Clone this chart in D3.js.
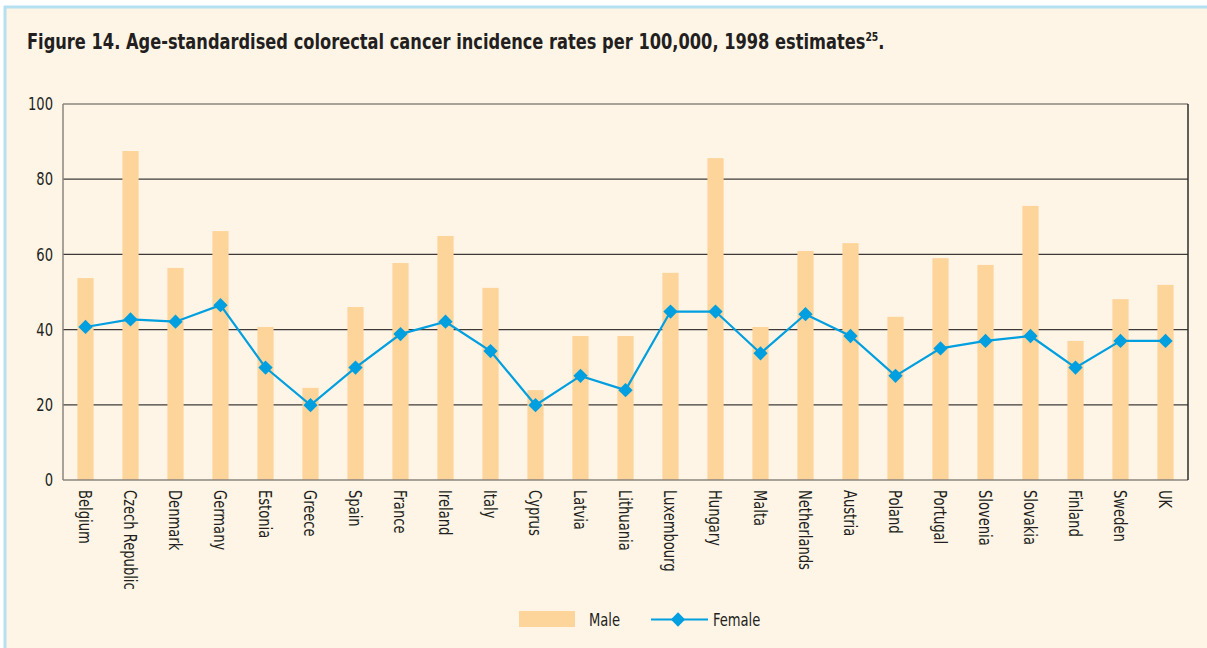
<!DOCTYPE html>
<html>
<head>
<meta charset="utf-8">
<script src="https://cdn.jsdelivr.net/npm/d3@7"></script>
<style>
  html, body { margin: 0; padding: 0; background: #ffffff; }
  svg { display: block; }
  text { font-family: "DejaVu Sans Condensed", "DejaVu Sans", sans-serif; font-stretch: condensed; fill: #231f20; }
</style>
</head>
<body>
<svg id="chart" width="1207" height="648"></svg>
<script>
// Countries along the x axis
const countries = ["Belgium", "Czech Republic", "Denmark", "Germany", "Estonia", "Greece", "Spain",
  "France", "Ireland", "Italy", "Cyprus", "Latvia", "Lithuania", "Luxembourg", "Hungary", "Malta",
  "Netherlands", "Austria", "Poland", "Portugal", "Slovenia", "Slovakia", "Finland", "Sweden", "UK"];

// Age-standardised incidence per 100,000 (1998 estimates)
const maleRates = [53.7, 87.5, 56.4, 66.2, 40.7, 24.5, 46.0, 57.7, 64.9, 51.1, 23.9, 38.3, 38.3,
  55.1, 85.6, 40.7, 60.9, 63.0, 43.4, 59.0, 57.2, 72.9, 37.0, 48.1, 51.9];
const femaleRates = [40.7, 42.7, 42.1, 46.5, 29.9, 19.9, 29.9, 38.8, 42.1, 34.3, 19.9, 27.7, 23.9,
  44.8, 44.8, 33.7, 44.1, 38.3, 27.7, 35.0, 37.0, 38.3, 29.9, 37.0, 37.0];

const yTicks = [0, 20, 40, 60, 80, 100];
const seriesNames = ["Male", "Female"];

const colors = { bg: "#fef5e7", bar: "#fdd49a", line: "#009fe0", border: "#b5e0f0", grid: "#3d3a38", frame: "#8a847e" };
const squeeze = 0.86;      // horizontal compression for the title
const labelSqueeze = 0.81; // horizontal compression for axis and legend labels
const labelSize = "18px";

const svg = d3.select("#chart");

// Page panel with light-blue top and left rule
svg.append("rect").attr("x", 5).attr("y", 7).attr("width", 1202).attr("height", 641).attr("fill", colors.bg);
svg.append("line").attr("x1", 4).attr("x2", 1207).attr("y1", 7).attr("y2", 7)
  .attr("stroke", colors.border).attr("stroke-width", 3);
svg.append("line").attr("x1", 5).attr("x2", 5).attr("y1", 6).attr("y2", 648)
  .attr("stroke", colors.border).attr("stroke-width", 3);

// Title
const title = svg.append("text").attr("transform", `translate(27,49) scale(${squeeze},1)`)
  .style("font-size", "21px").style("font-weight", "bold");
title.append("tspan").text("Figure 14. Age-standardised colorectal cancer incidence rates per 100,000, 1998 estimates");
title.append("tspan").text("25").attr("dy", -8).style("font-size", "12px");
title.append("tspan").text(".").attr("dy", 8);

const plot = { left: 63, right: 1188, top: 104, bottom: 480 };

const x = d3.scaleBand().domain(countries).range([plot.left, plot.right]).paddingInner(0.64).paddingOuter(0.32);
const xc = d => x(d) + x.bandwidth() / 2;
const y = d3.scaleLinear().domain([0, 100]).range([plot.bottom, plot.top]);

const g = svg.append("g");

// Horizontal gridlines
g.selectAll("line.grid").data(yTicks.filter(t => t > 0 && t < 100)).join("line")
  .attr("class", "grid")
  .attr("x1", plot.left).attr("x2", plot.right)
  .attr("y1", d => y(d)).attr("y2", d => y(d))
  .attr("stroke", colors.grid).attr("stroke-width", 1.2);

// Male bars
g.selectAll("rect.bar").data(maleRates).join("rect")
  .attr("class", "bar")
  .attr("x", (d, i) => x(countries[i]))
  .attr("width", x.bandwidth())
  .attr("y", d => y(d))
  .attr("height", d => y(0) - y(d))
  .attr("fill", colors.bar);

// Plot frame
g.append("line").attr("x1", plot.left).attr("x2", plot.right).attr("y1", plot.top).attr("y2", plot.top)
  .attr("stroke", colors.frame).attr("stroke-width", 1.5);
g.append("line").attr("x1", plot.left).attr("x2", plot.right).attr("y1", plot.bottom).attr("y2", plot.bottom)
  .attr("stroke", colors.frame).attr("stroke-width", 1.5);
g.append("line").attr("x1", plot.left).attr("x2", plot.left).attr("y1", plot.top).attr("y2", plot.bottom)
  .attr("stroke", colors.frame).attr("stroke-width", 1.5);
g.append("line").attr("x1", plot.right).attr("x2", plot.right).attr("y1", plot.top).attr("y2", plot.bottom)
  .attr("stroke", "#2e2b29").attr("stroke-width", 1.5);

// Female line with diamond markers
const line = d3.line().x((d, i) => xc(countries[i])).y(d => y(d));
g.append("path").datum(femaleRates).attr("d", line)
  .attr("fill", "none").attr("stroke", colors.line).attr("stroke-width", 2.2);
const diamond = d3.symbol().type(d3.symbolDiamond2).size(130);
g.selectAll("path.marker").data(femaleRates).join("path")
  .attr("class", "marker")
  .attr("transform", (d, i) => `translate(${xc(countries[i])},${y(d)})`)
  .attr("d", diamond)
  .attr("fill", colors.line);

// Y axis labels
const yAxis = d3.axisLeft(y).tickValues(yTicks).tickSize(0).tickPadding(0);
const ya = svg.append("g").attr("transform", `translate(${plot.left},0)`).call(yAxis);
ya.select(".domain").remove();
ya.selectAll("text").style("font-size", labelSize).style("font-family", null).attr("fill", "#231f20")
  .attr("x", 0).attr("transform", `translate(-10,0) scale(${labelSqueeze},1)`);

// X axis labels, rotated to read downward
const xAxis = d3.axisBottom(x).tickSize(0).tickPadding(0);
const xa = svg.append("g").attr("transform", `translate(0,${plot.bottom})`).call(xAxis);
xa.select(".domain").remove();
xa.selectAll("text")
  .style("font-size", labelSize).style("font-family", null).attr("fill", "#231f20")
  .attr("text-anchor", "start")
  .attr("dy", "0.35em")
  .attr("transform", `translate(0,10) rotate(90) scale(${labelSqueeze},1)`)
  .attr("y", 0).attr("x", 0);

// Legend
const lg = svg.append("g");
lg.append("rect").attr("x", 519).attr("y", 611).attr("width", 56).attr("height", 16).attr("fill", colors.bar);
lg.append("text").attr("transform", `translate(589,626) scale(${labelSqueeze},1)`).style("font-size", labelSize).text(seriesNames[0]);
lg.append("line").attr("x1", 651).attr("x2", 708).attr("y1", 619.5).attr("y2", 619.5)
  .attr("stroke", colors.line).attr("stroke-width", 2.2);
lg.append("path").attr("transform", "translate(678,619.5)").attr("d", diamond).attr("fill", colors.line);
lg.append("text").attr("transform", `translate(713,626) scale(${labelSqueeze},1)`).style("font-size", labelSize).text(seriesNames[1]);
</script>
</body>
</html>
